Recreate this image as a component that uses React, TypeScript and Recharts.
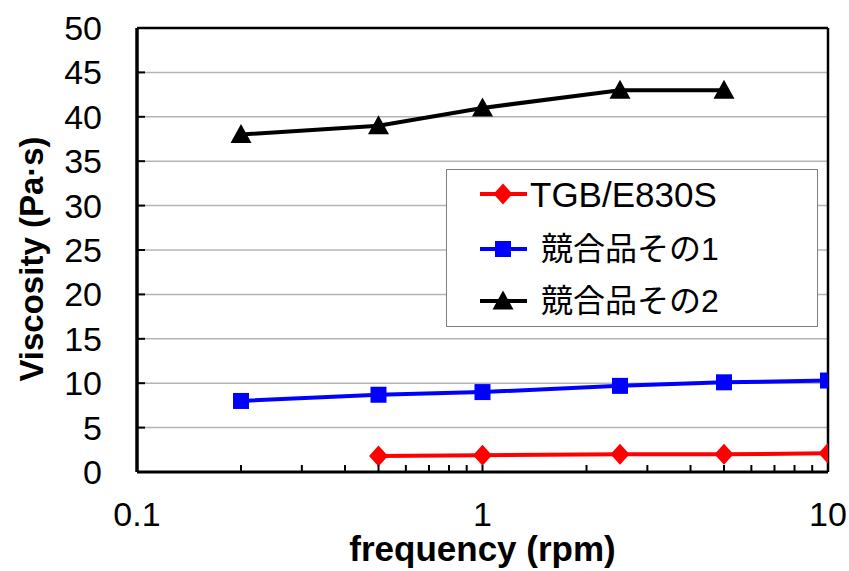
import React from 'react';
import { LineChart, Line, XAxis, YAxis, CartesianGrid, ReferenceLine, Legend } from 'recharts';

const seriesNames = ['TGB/E830S', ' 競合品その1', ' 競合品その2'];
const seriesColors = ['#ff0000', '#0000ff', '#000000'];

const freqTGB = [0.5, 1, 2.5, 5, 10];
const viscTGB = [1.8, 1.9, 2.0, 2.0, 2.1];
const freqComp1 = [0.2, 0.5, 1, 2.5, 5, 10];
const viscComp1 = [8.0, 8.7, 9.0, 9.7, 10.1, 10.3];
const freqComp2 = [0.2, 0.5, 1, 2.5, 5];
const viscComp2 = [38, 39, 41, 43, 43];

const xTicks = [0.1, 0.2, 0.3, 0.4, 0.5, 0.6, 0.7, 0.8, 0.9, 1, 2, 3, 4, 5, 6, 7, 8, 9, 10];
const xLabels: Record<string, string> = { '0.1': '0.1', '1': '1', '10': '10' };
const yTicks = [0, 5, 10, 15, 20, 25, 30, 35, 40, 45, 50];

const toRows = (xs: number[], ys: number[]) => xs.map((f, i) => ({ f, v: ys[i] }));
const dataTGB = toRows(freqTGB, viscTGB);
const dataComp1 = toRows(freqComp1, viscComp1);
const dataComp2 = toRows(freqComp2, viscComp2);

const FONT = '"Liberation Sans", Arial, sans-serif';
const JFONT = '"Liberation Sans", "Noto Sans CJK JP", sans-serif';

const Diamond = (props: any) => {
  const { cx, cy, fill } = props;
  if (cx == null || cy == null) return null;
  return <polygon points={`${cx},${cy - 10.5} ${cx + 9.5},${cy} ${cx},${cy + 10.5} ${cx - 9.5},${cy}`} fill={fill} />;
};
const Square = (props: any) => {
  const { cx, cy, fill } = props;
  if (cx == null || cy == null) return null;
  return <rect x={cx - 8} y={cy - 8} width={16} height={16} fill={fill} />;
};
const Triangle = (props: any) => {
  const { cx, cy, fill } = props;
  if (cx == null || cy == null) return null;
  return <polygon points={`${cx},${cy - 10.5} ${cx + 10.5},${cy + 8.5} ${cx - 10.5},${cy + 8.5}`} fill={fill} />;
};
const shapes = [Diamond, Square, Triangle];

const XTick = (props: any) => {
  const { x, y, payload } = props;
  const lbl = xLabels[String(payload.value)];
  return (
    <g>
      <line x1={x} y1={y} x2={x} y2={y - 7} stroke="#000" strokeWidth={2} />
      {lbl ? (
        <text x={x} y={y + 54} textAnchor="middle" fontSize={34} fontFamily={FONT} fill="#000">
          {lbl}
        </text>
      ) : null}
    </g>
  );
};

const YTick = (props: any) => {
  const { x, y, payload } = props;
  return (
    <g>
      <line x1={x} y1={y} x2={x + 8} y2={y} stroke="#000" strokeWidth={2} />
      <text x={x - 35} y={y + 12} textAnchor="end" fontSize={34} fontFamily={FONT} fill="#000">
        {payload.value}
      </text>
    </g>
  );
};

const LegendBox = () => (
  <div
    style={{
      width: 372,
      height: 158,
      boxSizing: 'border-box',
      border: '1.5px solid #808080',
      background: '#fff',
      position: 'relative',
    }}
  >
    {seriesNames.map((name, i) => {
      const Shape = shapes[i];
      const top = [24, 79, 131][i];
      return (
        <div key={name} style={{ position: 'absolute', left: 0, top: top - 25, height: 50, width: 372 }}>
          <svg width={60} height={50} style={{ position: 'absolute', left: 28, top: 0 }}>
            <line x1={5} y1={25} x2={52} y2={25} stroke={seriesColors[i]} strokeWidth={4} />
            <Shape cx={28} cy={25} fill={seriesColors[i]} />
          </svg>
          <span
            style={{
              position: 'absolute',
              left: i === 0 ? 83 : 94,
              top: 25,
              transform: 'translateY(-50%)',
              fontFamily: i === 0 ? FONT : JFONT,
              fontSize: i === 0 ? 35 : 32,
              whiteSpace: 'pre',
              lineHeight: 1,
              color: '#000',
            }}
          >
            {name.trim()}
          </span>
        </div>
      );
    })}
  </div>
);

export default function App() {
  return (
    <div style={{ position: 'absolute', left: 0, top: 0, background: '#fff' }}>
      <LineChart width={849} height={571} margin={{ top: 28, right: 21, bottom: 0, left: 0 }}>
        <CartesianGrid horizontal vertical={false} stroke="#b4b4b4" strokeWidth={1.5} />
        <XAxis
          dataKey="f"
          type="number"
          scale="log"
          domain={[0.1, 10]}
          ticks={xTicks}
          interval={0}
          allowDataOverflow
          height={99}
          tickSize={0}
          tickMargin={0}
          tickLine={false}
          tick={<XTick />}
          axisLine={{ stroke: '#000', strokeWidth: 3 }}
          label={{
            content: (p: any) => {
              const vb = p.viewBox;
              return (
                <text x={vb.x + vb.width / 2} y={vb.y + 89} textAnchor="middle" fontSize={35} fontWeight="bold" fontFamily={FONT} fill="#000">
                  frequency (rpm)
                </text>
              );
            },
          }}
        />
        <YAxis
          type="number"
          domain={[0, 50]}
          ticks={yTicks}
          interval={0}
          width={137}
          tickSize={0}
          tickMargin={0}
          tickLine={false}
          tick={<YTick />}
          axisLine={{ stroke: '#000', strokeWidth: 3.5 }}
          label={{
            content: (p: any) => {
              const vb = p.viewBox;
              const cx = 31;
              const cy = vb.y + vb.height / 2 + 9;
              return (
                <text x={cx} y={cy} transform={`rotate(-90 ${cx} ${cy})`} textAnchor="middle" dominantBaseline="central" fontSize={33} fontWeight="bold" fontFamily={FONT} fill="#000">
                  Viscosity (Pa·s)
                </text>
              );
            },
          }}
        />
        <ReferenceLine y={50} stroke="#000" strokeWidth={2.5} />
        <ReferenceLine x={10} stroke="#000" strokeWidth={2.5} />
        <Line data={dataTGB} dataKey="v" name={seriesNames[0]} stroke={seriesColors[0]} strokeWidth={4} dot={<Diamond fill={seriesColors[0]} />} isAnimationActive={false} />
        <Line data={dataComp1} dataKey="v" name={seriesNames[1]} stroke={seriesColors[1]} strokeWidth={4} dot={<Square fill={seriesColors[1]} />} isAnimationActive={false} />
        <Line data={dataComp2} dataKey="v" name={seriesNames[2]} stroke={seriesColors[2]} strokeWidth={4} dot={<Triangle fill={seriesColors[2]} />} isAnimationActive={false} />
        <Legend
          layout="horizontal"
          align="center"
          verticalAlign="middle"
          content={<LegendBox />}
          wrapperStyle={{ position: 'absolute', left: 446, top: 169, width: 372, height: 158 }}
        />
      </LineChart>
    </div>
  );
}
